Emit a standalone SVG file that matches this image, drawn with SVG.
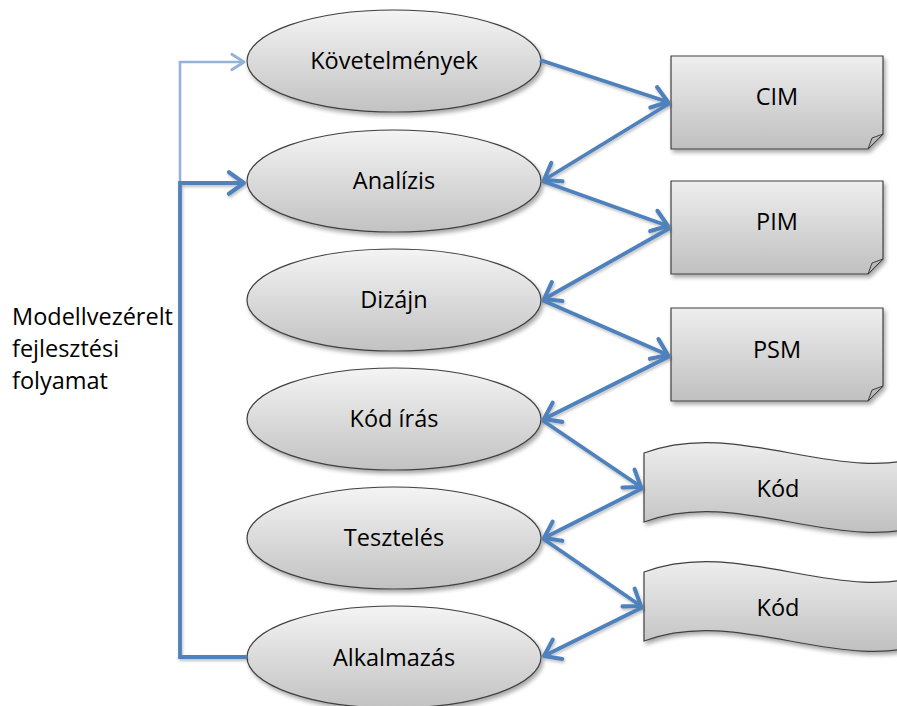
<svg xmlns="http://www.w3.org/2000/svg" width="897" height="706" viewBox="0 0 897 706">
  <style>
    .lbl { font-family: "Open Sans", "Noto Sans", "Liberation Sans", sans-serif; font-size: 23.5px; fill: #000; text-anchor: middle; }
    .side { font-family: "Open Sans", "Noto Sans", "Liberation Sans", sans-serif; font-size: 23.5px; fill: #000; }
    .shape { stroke: #404040; stroke-width: 1.2; filter: url(#shadow); }
    .ell { fill: url(#gradE); }
    .doc { fill: url(#gradD); }
    .fold { fill: #b8b8b8; stroke: #404040; stroke-width: 1; }
    .conn { fill: none; stroke: #4f81bd; stroke-width: 3.8; marker-end: url(#arrow); filter: url(#lshadow); }
    .light { fill: none; stroke: #95b3d7; stroke-width: 2.6; marker-end: url(#arrowLight); }
  </style>
  <defs>
    <linearGradient id="gradE" x1="0" y1="0" x2="0" y2="1">
      <stop offset="0" stop-color="#f4f4f4"/>
      <stop offset="1" stop-color="#c2c2c2"/>
    </linearGradient>
    <linearGradient id="gradD" x1="0" y1="0" x2="0" y2="1">
      <stop offset="0" stop-color="#eeeeee"/>
      <stop offset="1" stop-color="#c0c0c0"/>
    </linearGradient>
    <filter id="shadow" x="-10%" y="-10%" width="125%" height="130%">
      <feGaussianBlur in="SourceAlpha" stdDeviation="2"/>
      <feOffset dx="1.5" dy="3" result="b"/>
      <feComponentTransfer><feFuncA type="linear" slope="0.35"/></feComponentTransfer>
      <feMerge><feMergeNode/><feMergeNode in="SourceGraphic"/></feMerge>
    </filter>
    <filter id="lshadow" x="-10%" y="-20%" width="125%" height="150%">
      <feGaussianBlur in="SourceAlpha" stdDeviation="1.5"/>
      <feOffset dx="1" dy="2" result="b"/>
      <feComponentTransfer><feFuncA type="linear" slope="0.25"/></feComponentTransfer>
      <feMerge><feMergeNode/><feMergeNode in="SourceGraphic"/></feMerge>
    </filter>
    <marker id="arrow" markerUnits="userSpaceOnUse" markerWidth="24" markerHeight="28" viewBox="-17 -13 19 26" refX="0" refY="0" orient="auto">
      <path d="M-14,-10 L0,0 L-14,10" fill="none" stroke="#4f81bd" stroke-width="3.8" stroke-linecap="round" stroke-linejoin="round"/>
    </marker>
    <marker id="arrowLight" markerUnits="userSpaceOnUse" markerWidth="18" markerHeight="20" viewBox="-14 -9 16 18" refX="0" refY="0" orient="auto">
      <path d="M-11,-7 L0,0 L-11,7" fill="none" stroke="#95b3d7" stroke-width="2.6" stroke-linecap="round" stroke-linejoin="round"/>
    </marker>
  </defs>

  <!-- process steps -->
  <g id="kovetelmenyek">
    <ellipse class="shape ell" cx="394" cy="61" rx="147" ry="51"/>
    <text class="lbl" x="394" y="69">Követelmények</text>
  </g>
  <g id="analizis">
    <ellipse class="shape ell" cx="394" cy="181" rx="147" ry="51"/>
    <text class="lbl" x="394" y="189">Analízis</text>
  </g>
  <g id="dizajn">
    <ellipse class="shape ell" cx="394" cy="300" rx="147" ry="51"/>
    <text class="lbl" x="394" y="308">Dizájn</text>
  </g>
  <g id="kod-iras">
    <ellipse class="shape ell" cx="394" cy="419" rx="147" ry="51"/>
    <text class="lbl" x="394" y="427">Kód írás</text>
  </g>
  <g id="teszteles">
    <ellipse class="shape ell" cx="394" cy="538" rx="147" ry="51"/>
    <text class="lbl" x="394" y="546">Tesztelés</text>
  </g>
  <g id="alkalmazas">
    <ellipse class="shape ell" cx="394" cy="657" rx="147" ry="51"/>
    <text class="lbl" x="394" y="666">Alkalmazás</text>
  </g>

  <!-- model artefacts -->
  <g id="cim">
    <path class="shape doc" d="M671,56 H883 V134 L868,149 H671 Z"/>
    <path class="fold" d="M868,149 L872,138 L883,134 Z"/>
    <text class="lbl" x="777" y="105">CIM</text>
  </g>
  <g id="pim">
    <path class="shape doc" d="M671,181 H883 V259 L868,274 H671 Z"/>
    <path class="fold" d="M868,274 L872,263 L883,259 Z"/>
    <text class="lbl" x="777" y="230">PIM</text>
  </g>
  <g id="psm">
    <path class="shape doc" d="M671,308 H883 V386 L868,401 H671 Z"/>
    <path class="fold" d="M868,401 L872,390 L883,386 Z"/>
    <text class="lbl" x="777" y="358">PSM</text>
  </g>
  <g id="kod1">
    <path class="shape doc" d="M644,453 C741,417 839,489 936,453 L936,522 C839,558 741,486 644,522 Z"/>
    <text class="lbl" x="778" y="497">Kód</text>
  </g>
  <g id="kod2">
    <path class="shape doc" d="M644,572 C741,536 839,608 936,572 L936,641 C839,677 741,605 644,641 Z"/>
    <text class="lbl" x="778" y="616">Kód</text>
  </g>

  <!-- side label -->
  <g id="folyamat-label">
    <text class="side" x="12" y="325">Modellvezérelt</text>
    <text class="side" x="12" y="357">fejlesztési</text>
    <text class="side" x="12" y="389">folyamat</text>
  </g>

  <!-- connectors -->
  <g id="connectors">
    <path class="light" d="M180,183 V62 H244"/>
    <path class="conn" d="M247,657 H180 V183 H244"/>
    <path class="conn" d="M540,60 L668,102"/>
    <path class="conn" d="M670,103 L544,180"/>
    <path class="conn" d="M542,181 L668,226"/>
    <path class="conn" d="M670,228 L544,299"/>
    <path class="conn" d="M542,300 L668,355"/>
    <path class="conn" d="M670,356 L544,419"/>
    <path class="conn" d="M542,420 L641,487"/>
    <path class="conn" d="M643,488 L544,538"/>
    <path class="conn" d="M542,538 L641,606"/>
    <path class="conn" d="M643,607 L544,656"/>
  </g>
</svg>
